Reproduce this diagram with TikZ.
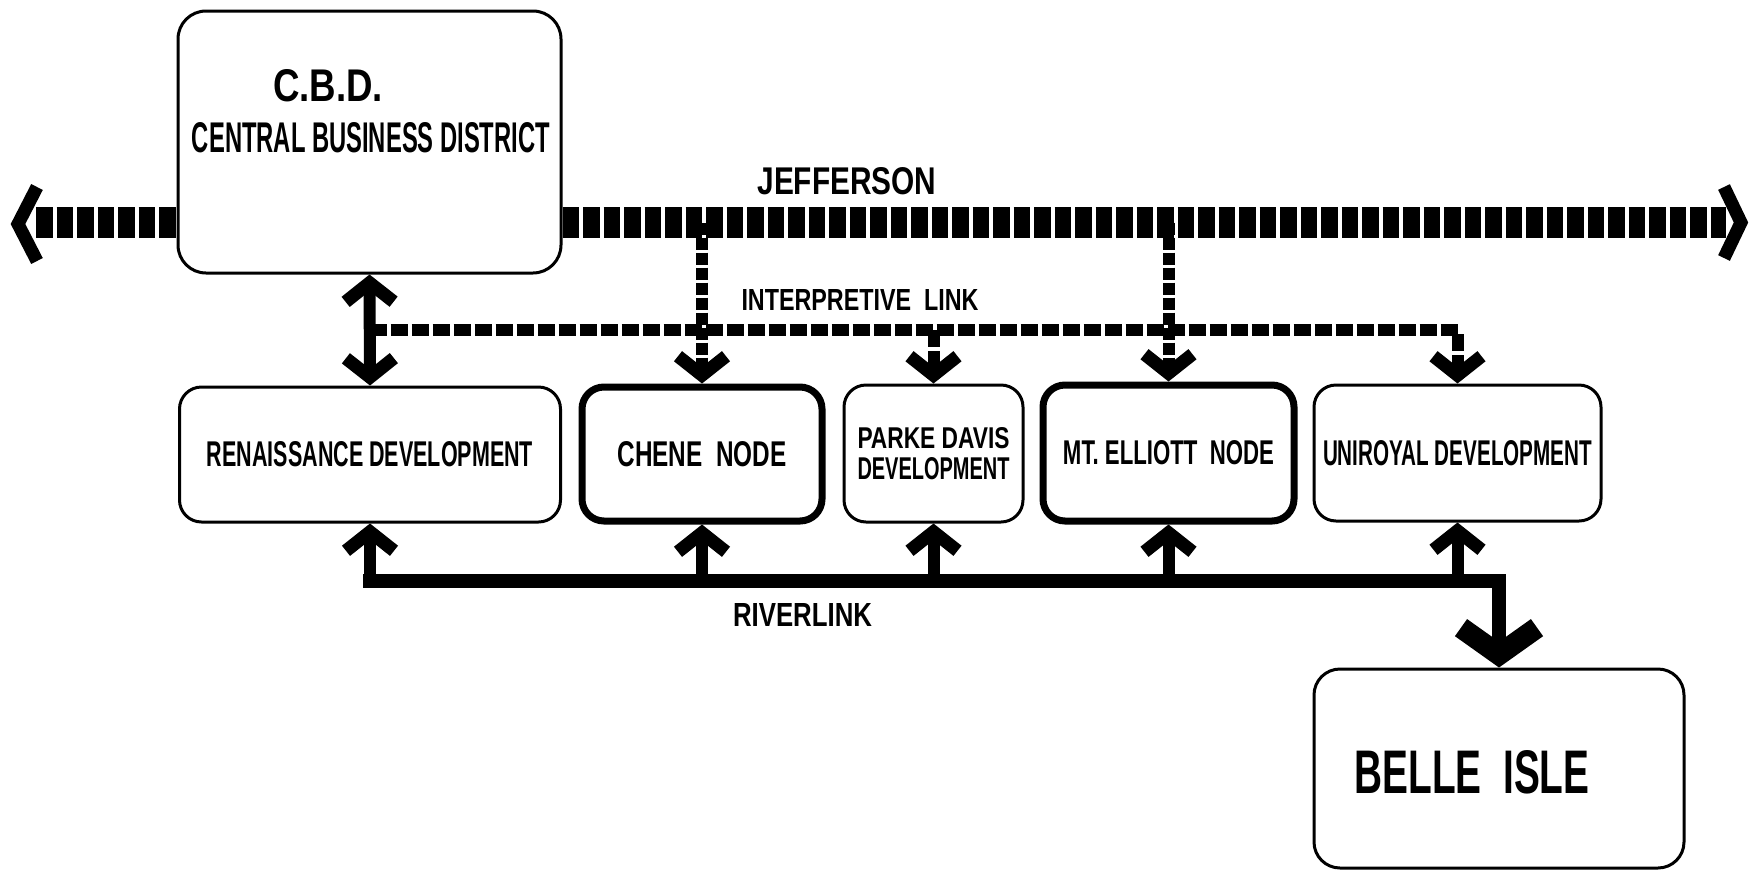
\documentclass[tikz,border=0pt]{standalone}
\usepackage{fontspec}
\setmainfont{Liberation Sans}
\usepackage{graphicx}
\usetikzlibrary{arrows.meta}
\newdimen\chevm
\pgfdeclarearrow{
  name = Chev,
  parameters = {\the\pgfarrowlength,\the\pgfarrowwidth,\the\pgfarrowlinewidth},
  defaults = {length=19pt, width=48pt, line width=13pt},
  setup code = {%
    \pgfmathsetlength\chevm{0.5*\pgfarrowlinewidth*veclen(\pgfarrowlength,0.5*\pgfarrowwidth)/(0.5*\pgfarrowwidth)}%
    \pgfarrowssettipend{\chevm}%
    \pgfarrowssetlineend{0pt}%
    \pgfarrowssetbackend{-\pgfarrowlength}%
    \pgfarrowssavethe\pgfarrowlength
    \pgfarrowssavethe\pgfarrowwidth
    \pgfarrowssavethe\pgfarrowlinewidth
  },
  drawing code = {%
    \pgfsetlinewidth{\pgfarrowlinewidth}%
    \pgfsetdash{}{0pt}%
    \pgfsetbuttcap\pgfsetmiterjoin
    \pgfpathmoveto{\pgfqpoint{-\pgfarrowlength}{0.5\pgfarrowwidth}}%
    \pgfpathlineto{\pgfqpoint{0pt}{0pt}}%
    \pgfpathlineto{\pgfqpoint{-\pgfarrowlength}{-0.5\pgfarrowwidth}}%
    \pgfusepathqstroke
  }
}
\newcommand\fitt[3]{\resizebox{#1pt}{#2pt}{\bfseries #3}}
\begin{document}
\begin{tikzpicture}[x=1pt,y=-1pt,
  dbox/.style={draw, line width=3pt, rounded corners=22pt, inner sep=0pt, fill=white},
  hbox/.style={dbox, line width=7pt},
  road/.style={line width=31pt, dash pattern=on 16.5pt off 4pt},
  chev/.style={line width=13pt, line join=miter},
  jlink/.style={line width=12pt, dash pattern=on 12pt off 3pt},
  ilink/.style={line width=12pt, dash pattern=on 17pt off 4pt},
  shaft/.style={line width=12pt},
  river/.style={line width=14pt, line cap=rect}]
\useasboundingbox (0,0) rectangle (1749,871);
\fill[white] (0,0) rectangle (1749,871);

% boxes
\node[dbox, minimum width=383pt, minimum height=262pt, rounded corners=28pt] (cbd) at (369.5,142) {};
\node[dbox, minimum width=381pt, minimum height=135pt] (ren) at (370,454.5) {\fitt{326}{25}{RENAISSANCE DEVELOPMENT}};
\node[hbox, minimum width=240pt, minimum height=134pt] (chene) at (702,454) {\fitt{169}{25}{CHENE\ \ NODE}};
\node[dbox, minimum width=179pt, minimum height=137pt, align=center, font=\fontsize{10}{31}\selectfont] (pd) at (933.5,453.5) {\fitt{152}{21}{PARKE DAVIS}\\\fitt{152}{22}{DEVELOPMENT}};
\node[hbox, minimum width=251pt, minimum height=136pt] (mte) at (1168.5,453) {\fitt{211}{24}{MT. ELLIOTT\ \ NODE}};
\node[dbox, minimum width=287pt, minimum height=136pt] (uni) at (1457.5,453) {\fitt{269}{25}{UNIROYAL DEVELOPMENT}};
\node[dbox, minimum width=370pt, minimum height=199pt, rounded corners=26pt] (belle) at (1499,768.5) {};

% labels
\node (cbdt) at (328,86) {\fitt{110}{32}{C.B.D.}};
\node (cbdn) at (371,138) {\fitt{358}{30}{CENTRAL BUSINESS DISTRICT}};
\node (jeff) at (847,181) {\fitt{179}{27}{JEFFERSON}};
\node (ilt) at (860,299.5) {\fitt{237}{21}{INTERPRETIVE\ \ LINK}};
\node (rlt) at (802.5,614.5) {\fitt{139}{23}{RIVERLINK}};
\node (bellet) at (1472,772.5) {\fitt{235}{43}{BELLE\ \ ISLE}};

% coordinates
\coordinate (jw) at (36,222.5);
\coordinate (je) at (1726,222.5);
\coordinate (il) at (369.5,330);
\coordinate (rl) at (370,581);

% links from Jefferson
\draw[jlink, -{Chev}] (chene.north |- jw) -- (chene.north);
\draw[jlink, -{Chev}] (mte.north |- jw) -- (mte.north);

% Jefferson road
\draw[road] (jw) -- (cbd.west |- jw);
\draw[road] (cbd.east |- je) -- (je);
\draw[chev] (37,187) -- (18,224) -- (37,261);
\draw[chev] (1724,187) -- (1741,222.5) -- (1724,258);

% interpretive link
\draw[ilink, -{Chev}] (il) -| (uni.north);
\draw[ilink, -{Chev}] (pd.north |- il) -- (pd.north);
\draw[shaft, {Chev}-{Chev}] (cbd.south) -- (ren.north);

% riverlink
\draw[river, -{Chev[length=27pt,width=76pt,line width=21pt]}] (rl) -| (belle.north);
\draw[shaft, -{Chev}] (rl) -- (ren.south);
\draw[shaft, -{Chev}] (chene.south |- rl) -- (chene.south);
\draw[shaft, -{Chev}] (pd.south |- rl) -- (pd.south);
\draw[shaft, -{Chev}] (mte.south |- rl) -- (mte.south);
\draw[shaft, -{Chev}] (uni.south |- rl) -- (uni.south);
\end{tikzpicture}
\end{document}
